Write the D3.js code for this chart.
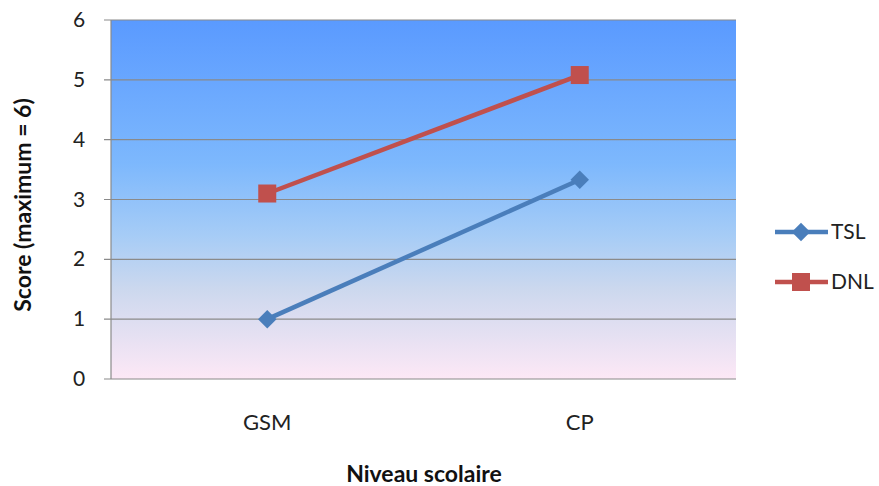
<!DOCTYPE html>
<html><head><meta charset="utf-8">
<script src="https://cdn.jsdelivr.net/npm/d3@7"></script>
<style>body{margin:0;background:#fff}svg{font-family:Lato,"Open Sans",sans-serif}</style>
</head><body><svg id="c" width="879" height="486"></svg>
<script>
const categories = ["GSM","CP"];
const tslValues = [1.0, 3.33];
const dnlValues = [3.1, 5.08];
const yTicks = [0,1,2,3,4,5,6];
const seriesNames = ["TSL","DNL"];
const seriesColors = ["#4A7EBB","#C0504D"];

const svg = d3.select("#c");
const L=111, R=736, T=20, B=379;
const x = d3.scaleBand().domain(categories).range([L,R]);
const y = d3.scaleLinear().domain([0,6]).range([B,T]);

const defs = svg.append("defs");
const g = defs.append("linearGradient").attr("id","bg").attr("x1",0).attr("y1",0).attr("x2",0).attr("y2",1);
[[0,"#5A9AFF"],[0.4,"#7DB8FD"],[0.6,"#A6CCF6"],[0.75,"#CCD8EE"],[1,"#FDE8F6"]].forEach(s=>g.append("stop").attr("offset",s[0]).attr("stop-color",s[1]));
svg.append("rect").attr("x",L).attr("y",T).attr("width",R-L).attr("height",B-T).attr("fill","url(#bg)");

svg.append("g").selectAll("line").data(yTicks).join("line")
  .attr("x1",L-7).attr("x2",R).attr("y1",d=>y(d)).attr("y2",d=>y(d))
  .attr("stroke","#8a8a8a").attr("stroke-width",1.2);
svg.append("line").attr("x1",L).attr("x2",L).attr("y1",T).attr("y2",B).attr("stroke","#8a8a8a").attr("stroke-width",1.2);

svg.append("g").selectAll("text").data(yTicks).join("text")
  .attr("x",79).attr("y",d=>y(d)+7).attr("text-anchor","middle").attr("font-size",21).attr("fill","#222").text(d=>d);

svg.append("g").selectAll("text").data(categories).join("text")
  .attr("x",d=>x(d)+x.bandwidth()/2).attr("y",430).attr("text-anchor","middle").attr("font-size",22).attr("fill","#222").text(d=>d);

svg.append("text").attr("x",424).attr("y",482).attr("text-anchor","middle").attr("font-size",23).attr("font-weight","bold").attr("fill","#111").text("Niveau scolaire");
svg.append("text").attr("transform","translate(31,205) rotate(-90)").attr("text-anchor","middle").attr("font-size",23).attr("font-weight","bold").attr("fill","#111").text("Score (maximum = 6)");

const cx = d=>x(d)+x.bandwidth()/2;
const line = d3.line().x(d=>cx(d.c)).y(d=>y(d.v));
const series = [tslValues, dnlValues].map((vals,i)=>({name:seriesNames[i],color:seriesColors[i],pts:categories.map((c,j)=>({c,v:vals[j]}))}));

function marker(sel,i,px,py){
  if(i===0){
    sel.append("path").attr("d",d3.symbol().type(d3.symbolSquare).size(170)()).attr("transform",`translate(${px},${py}) rotate(45)`).attr("fill",seriesColors[0]);
  } else {
    sel.append("rect").attr("x",px-9).attr("y",py-9).attr("width",18).attr("height",18).attr("fill",seriesColors[1]);
  }
}
series.forEach((s,i)=>{
  svg.append("path").datum(s.pts).attr("d",line).attr("fill","none").attr("stroke",s.color).attr("stroke-width",4.5);
  s.pts.forEach(p=>marker(svg,i,cx(p.c),y(p.v)));
});

series.forEach((s,i)=>{
  const ly = 232 + i*50;
  svg.append("line").attr("x1",775).attr("x2",828).attr("y1",ly).attr("y2",ly).attr("stroke",s.color).attr("stroke-width",4.5);
  marker(svg,i,801,ly);
  svg.append("text").attr("x",831).attr("y",ly+7).attr("font-size",21).attr("fill","#222").text(s.name);
});
</script></body></html>
